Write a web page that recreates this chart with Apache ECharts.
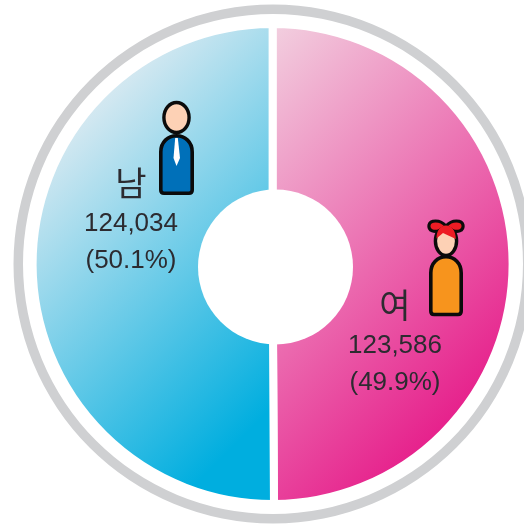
<!DOCTYPE html>
<html><head><meta charset="utf-8">
<style>html,body{margin:0;padding:0;background:#fff}#c{width:524px;height:526px}</style>
<script src="https://cdn.jsdelivr.net/npm/echarts@6/dist/echarts.min.js"></script>
</head><body><div id="c"></div>
<script>
const categories = ['여', '남'];
const values = [123586, 124034];
const percentLabels = ['(49.9%)', '(50.1%)'];
const valueLabels = ['123,586', '124,034'];

const labelAnchor = [{x: 395, y: 283}, {x: 131, y: 161}];
const gradients = [
  [150, 150, 440, 440, '#f2cfdf', '#e61f8b'],
  [85, 85, 340, 340, '#e2ecf2', '#00aedf']
];
const icons = {
  manBody: 'M160.8 190 L160.8 152 C160.8 142 168 135.8 176.5 135.8 C185 135.8 192.2 142 192.2 152 L192.2 190 Q192.2 193.2 189 193.2 L164 193.2 Q160.8 193.2 160.8 190 Z',
  manTie: 'M175.2 138 L177.8 138 L180 158 L176.5 166 L173.5 158 Z',
  girlBody: 'M430.8 311 L430.8 273 C430.8 263 437.5 256.8 446 256.8 C454.5 256.8 461.2 263 461.2 273 L461.2 311 Q461.2 314.5 458 314.5 L434 314.5 Q430.8 314.5 430.8 311 Z',
  girlLoops: 'M446 226 C440 219 430 220 429 225 C428 231 435 233 440 230 Z M446 226 C452 219 462 220 463 225 C464 231 457 233 452 230 Z',
  girlHair: 'M436.5 238.5 L443 233 C447 235 452 237 455.8 239 C455.8 231 452 225.5 446 225.5 C440 225.5 436.5 231 436.5 238.5 Z'
};
Object.keys(icons).forEach(k => echarts.graphic.registerShape(k, echarts.graphic.extendPath(icons[k], {})));
const chart = echarts.init(document.getElementById('c'), null, {renderer: 'canvas'});
const ol = '#0b0b0b';
chart.setOption({
  animation: false,
  backgroundColor: '#fff',
  series: [
    {
      type: 'pie', silent: true, center: [273, 264], radius: [250, 259.5],
      label: {show: false}, labelLine: {show: false},
      itemStyle: {color: '#cfd0d2'}, data: [1]
    },
    {
      type: 'pie', silent: true, center: [272.6, 264], radius: [0, 240],
      startAngle: 90, clockwise: true,
      labelLine: {show: false},
      label: {
        show: true, position: 'inside', color: '#2c2b30',
        formatter: p => `{n|${p.name}}\n{v|${valueLabels[p.dataIndex]}}\n{v|${percentLabels[p.dataIndex]}}`,
        rich: {
          n: {fontFamily: 'Noto Sans CJK KR', fontWeight: 400, fontSize: 34, lineHeight: 44, color: '#2c2b30'},
          v: {fontFamily: 'Liberation Sans', fontWeight: 400, fontSize: 26, lineHeight: 37, color: '#2c2b30'}
        }
      },
      labelLayout: p => ({x: labelAnchor[p.dataIndex].x, y: labelAnchor[p.dataIndex].y, align: 'center', verticalAlign: 'top'}),
      itemStyle: {borderColor: '#fff', borderWidth: 8},
      data: categories.map((name, i) => {
        const g = gradients[i];
        return {
          name, value: values[i],
          itemStyle: {color: new echarts.graphic.LinearGradient(g[0], g[1], g[2], g[3], [
            {offset: 0, color: g[4]}, {offset: 1, color: g[5]}
          ], true)}
        };
      })
    }
  ],
  graphic: {elements: [
    {type: 'circle', z: 10, shape: {cx: 275.5, cy: 267, r: 77.5}, style: {fill: '#fff'}},
    // man
    {type: 'manBody', z: 11, style: {fill: '#0070b9', stroke: ol, lineWidth: 3.6, lineJoin: 'round'}},
    {type: 'manTie', z: 12, style: {fill: '#fff'}},
    {type: 'ellipse', z: 13, shape: {cx: 176.5, cy: 117.5, rx: 12.6, ry: 15}, style: {fill: '#fdd1b5', stroke: ol, lineWidth: 3.4}},
    // girl
    {type: 'girlBody', z: 11, style: {fill: '#f7941d', stroke: ol, lineWidth: 3.6, lineJoin: 'round'}},
    {type: 'ellipse', z: 13, shape: {cx: 446, cy: 241, rx: 10.6, ry: 14.5}, style: {fill: '#fdd1b5', stroke: ol, lineWidth: 3.4}},
    {type: 'girlLoops', z: 14, style: {fill: '#ed1c24', stroke: ol, lineWidth: 3.2, lineJoin: 'round'}},
    {type: 'girlHair', z: 15, style: {fill: '#ed1c24'}}
  ]}
});
</script></body></html>
